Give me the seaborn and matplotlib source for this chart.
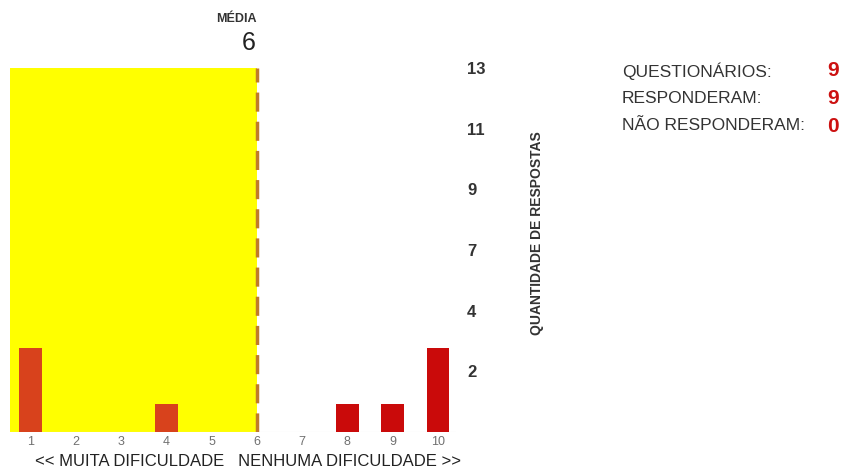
import matplotlib
matplotlib.use("Agg")
import matplotlib.pyplot as plt
import seaborn as sns
import numpy as np
import pandas as pd

# ---- data ----
scores = [1, 2, 3, 4, 5, 6, 7, 8, 9, 10]
counts = [3, 0, 0, 1, 0, 0, 0, 1, 1, 3]
mean_score = 6
y_max = 13
n_questionarios = 9
n_responderam = 9
n_nao_responderam = 0
summary_labels = ["QUESTIONÁRIOS:", "RESPONDERAM:", "NÃO RESPONDERAM:"]
summary_values = [n_questionarios, n_responderam, n_nao_responderam]

sns.set_theme(style="white")
plt.rcParams['font.family'] = ['Liberation Sans', 'DejaVu Sans']

df = pd.DataFrame({"score": scores, "count": counts})
low_color = "#d8421c"
high_color = "#ca0a0a"
palette = {s: (low_color if s < mean_score else high_color) for s in scores}

fig = plt.figure(figsize=(8.45, 4.72), dpi=100)
ax = fig.add_axes([10/845, 1-432/472, 446/845, (432-68)/472])

ax.axvspan(0.55, mean_score, color="#ffff00", zorder=0, lw=0)
sns.barplot(data=df, x="score", y="count", hue="score", palette=palette,
            native_scale=True, width=0.5, legend=False, ax=ax, zorder=2,
            saturation=1, edgecolor="none", linewidth=0)
ax.axvline(mean_score, color="#c07a2a", lw=2.5, ls=(0, (5.5, 2.9)), zorder=3)

ax.set_xlim(0.55, 10.4)
ax.set_ylim(0, y_max)
for s in ax.spines.values():
    s.set_visible(False)
ax.axhline(0, color="#e4e4e4", lw=0.8, zorder=1)

ax.set_xticks(scores)
ax.set_xticklabels([str(s) for s in scores], color="#707070", fontsize=9)
ax.tick_params(axis="x", length=0, pad=3)

yt = [y_max * k / 6 for k in range(1, 7)]
ax.yaxis.tick_right()
ax.set_yticks(yt)
ax.set_yticklabels([str(int(np.floor(v + 0.5))) for v in yt], color="#333333",
                   fontsize=12, fontweight="bold")
ax.tick_params(axis="y", length=0, pad=8)
ax.set_xlabel("")
ax.set_ylabel("")

fig.text(537/845, 1-233/472, "QUANTIDADE DE RESPOSTAS", rotation=90,
         ha="center", va="center", fontsize=10, fontweight="bold", color="#333333")

fig.text(248/845, 1-461/472, "<< MUITA DIFICULDADE   NENHUMA DIFICULDADE >>",
         ha="center", va="center", fontsize=12, color="#222222")

# mean annotation
ax.annotate("MÉDIA", xy=(mean_score, y_max), xycoords="data",
            xytext=(0, 35), textcoords="offset points", ha="right", va="center",
            fontsize=9, fontweight="bold", color="#333333")
ax.annotate(str(mean_score), xy=(mean_score, y_max), xycoords="data",
            xytext=(-1, 18), textcoords="offset points", ha="right", va="center",
            fontsize=18, color="#222222")

for i, (lab, val) in enumerate(zip(summary_labels, summary_values)):
    y = 1 - (71 + 27.5 * i) / 472
    fig.text(622/845, y, lab, ha="left", va="center", fontsize=12.5, color="#333333")
    fig.text(839/845, y, str(val), ha="right", va="center", fontsize=15,
             fontweight="bold", color="#cc1111")

fig.savefig("out.png", dpi=100)
